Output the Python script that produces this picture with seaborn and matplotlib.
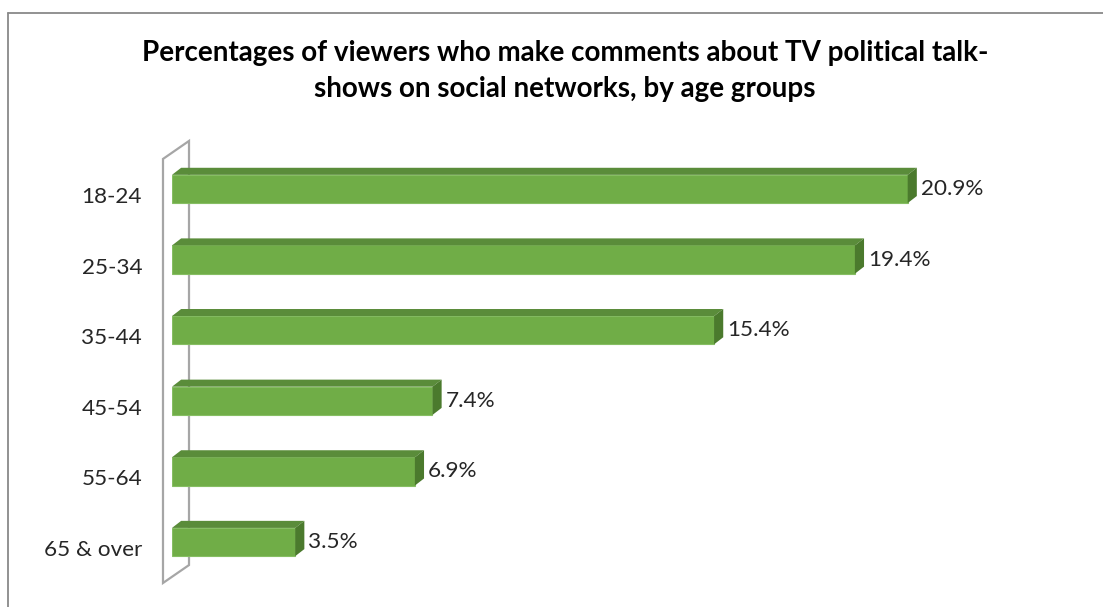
import numpy as np
import pandas as pd
import matplotlib
matplotlib.use("Agg")
import matplotlib.pyplot as plt
from matplotlib.patches import Polygon
from matplotlib.lines import Line2D
from matplotlib.transforms import ScaledTranslation
import seaborn as sns

# Data
age_groups = ["18-24", "25-34", "35-44", "45-54", "55-64", "65 & over"]
shares = [20.9, 19.4, 15.4, 7.4, 6.9, 3.5]
value_labels = [f"{v}%" for v in shares]
title = ("Percentages of viewers who make comments about TV political talk-\n"
         "shows on social networks, by age groups")

sns.set_theme(style="white")
plt.rcParams["font.family"] = ["Lato", "DejaVu Sans"]

W, H = 1103, 607
fig = plt.figure(figsize=(W / 100, H / 100), dpi=100)
fig.patch.set_facecolor("white")

# Plot area in pixel terms: value 0 at x=172, 25% at x=1052
ax = fig.add_axes([172 / W, 1 - 595 / H, 880 / W, 459 / H])

FRONT = "#70AD47"
TOP = "#5A8C3A"
SIDE = "#4B7A2D"
EDGE = "#86BE63"
LABEL_SIZE = 16.2

df = pd.DataFrame({"age": age_groups, "share": shares})
sns.barplot(data=df, x="share", y="age", orient="h", color=FRONT,
            saturation=1, width=0.40, edgecolor=EDGE, linewidth=0.8,
            ax=ax, zorder=3)
ax.set_xlim(0, 25)
ax.set_ylim(5.75, -0.75)

# 3-D depth offsets (data units): right and up
dx = 0.26
dy = 0.10

for p, lab in zip(ax.patches, value_labels):
    x0, y0 = p.get_x(), p.get_y()
    w, h = p.get_width(), p.get_height()
    top = Polygon([(x0, y0), (x0 + dx, y0 - dy), (x0 + w + dx, y0 - dy), (x0 + w, y0)],
                  closed=True, facecolor=TOP, edgecolor="none", zorder=3)
    side = Polygon([(x0 + w, y0), (x0 + w + dx, y0 - dy), (x0 + w + dx, y0 + h - dy),
                    (x0 + w, y0 + h)],
                   closed=True, facecolor=SIDE, edgecolor="none", zorder=3)
    ax.add_patch(top)
    ax.add_patch(side)
    ax.text(x0 + w + dx + 0.11, y0 + h / 2, lab, ha="left", va="center",
            fontsize=LABEL_SIZE, color="#262626", zorder=4)

# Side wall of the 3-D frame
wall = Polygon([(-0.256, -0.425), (0.483, -0.68), (0.483, 5.326), (-0.256, 5.58)],
               closed=True, facecolor="none", edgecolor="#A6A6A6", linewidth=1.6,
               zorder=1, clip_on=False)
ax.add_patch(wall)

for s in ax.spines.values():
    s.set_visible(False)
ax.xaxis.set_visible(False)
ax.set_ylabel("")
ax.set_xlabel("")
ax.tick_params(axis="y", length=0, pad=21.5, labelsize=LABEL_SIZE, labelcolor="#262626")
shift = ScaledTranslation(0, -6 / 100, fig.dpi_scale_trans)
for lbl in ax.get_yticklabels():
    lbl.set_transform(lbl.get_transform() + shift)

fig.text(565 / W, 1 - 71 / H, title, ha="center", va="center", fontsize=20,
         fontweight="bold", color="black", linespacing=1.45)

# Chart frame
fig.add_artist(Line2D([8 / W, 8 / W], [0, 1 - 13 / H], color="#898989", linewidth=1.3))
fig.add_artist(Line2D([8 / W, 1], [1 - 13 / H, 1 - 13 / H], color="#898989", linewidth=1.3))

fig.savefig("out.png", dpi=100, facecolor="white")
